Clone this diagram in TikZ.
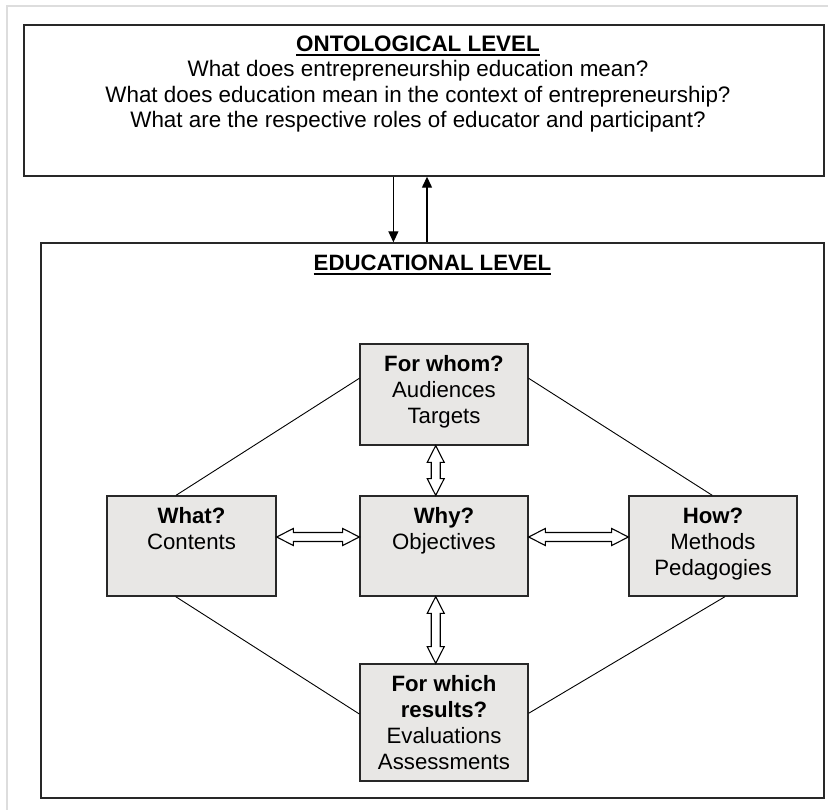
\documentclass[tikz,border=0pt]{standalone}
\usepackage{fontspec}
\setmainfont{Liberation Sans}
\usetikzlibrary{arrows.meta,calc}
\definecolor{boxfill}{RGB}{232,231,229}
\definecolor{edge}{RGB}{40,40,40}
\definecolor{pageframe}{RGB}{221,221,221}
% bold heading with a rule beneath it
\newcommand\undl[1]{\setbox0=\hbox{#1}\rlap{\rule[-5pt]{\wd0}{2.2pt}}\box0}
% fixes the height of the first line of a text block
\newcommand\topstrut{\rule{0pt}{20pt}}
% hollow two-headed arrow between two points
\newcommand\hollowarrow[2]{%
  \path[harrow] let \p1=(#1), \p2=(#2),
    \n1={veclen(\x2-\x1,\y2-\y1)}, \n2={atan2(\y2-\y1,\x2-\x1)} in
    [shift={(\p1)}, rotate=\n2]
    (0pt,0pt) -- (16.7pt,8.5pt) -- (16.7pt,4.5pt) -- ({\n1-16.7pt},4.5pt)
    -- ({\n1-16.7pt},8.5pt) -- (\n1,0pt) -- ({\n1-16.7pt},-8.5pt)
    -- ({\n1-16.7pt},-4.5pt) -- (16.7pt,-4.5pt) -- (16.7pt,-8.5pt) -- cycle;}
\begin{document}
\begin{tikzpicture}[x=1pt,y=-1pt,
  panel/.style={draw=edge, line width=1.4pt, fill=white, inner sep=0pt, rectangle},
  qbox/.style={draw=edge, line width=1.3pt, fill=boxfill, inner sep=0pt, rectangle,
    minimum width=168pt},
  txt/.style={inner sep=0pt, align=center, anchor=north, font=\fontsize{22.2}{26}\selectfont},
  link/.style={line width=0.9pt, black},
  flow/.style={line width=1.3pt, -{Triangle[length=11pt,width=10pt]}},
  harrow/.style={draw=black, line width=1.1pt, fill=white, line join=miter}]
\useasboundingbox (0,0) rectangle (828,810);
\draw[pageframe, line width=2pt] (7.3,810) -- (7.3,5.7) -- (828,5.7);

% the two levels
\node[panel, minimum width=800pt, minimum height=151pt] (onto) at (424,100.5) {};
\node[panel, minimum width=783pt, minimum height=555pt] (edu) at (432.5,520.5) {};

\node[txt, font=\fontsize{22.4}{25.5}\selectfont] (onto-t) at ([xshift=-6pt,yshift=-7pt]onto.north)
  {\topstrut\textbf{\undl{ONTOLOGICAL LEVEL}}\\
   What does entrepreneurship education mean?\\
   What does education mean in the context of entrepreneurship?\\
   What are the respective roles of educator and participant?};
\node[txt] (edu-t) at ([yshift=-8pt]edu.north) {\topstrut\textbf{\undl{EDUCATIONAL LEVEL}}};

\draw[flow] ([xshift=-30.6pt]onto.south) -- ([xshift=-30.6pt]onto.south |- edu.north);
\draw[flow] ([xshift=3pt]onto.south |- edu.north) -- ([xshift=3pt]onto.south);

% the five questions
\node[qbox, minimum height=101pt] (whom) at (444,394.5) {};
\node[qbox, minimum width=169pt, minimum height=100pt] (what) at (191.5,546) {};
\node[qbox, minimum height=100pt] (why) at (444,546) {};
\node[qbox, minimum height=100pt] (how) at (713,546) {};
\node[qbox, minimum height=117pt] (res) at (444,722.5) {};

\node[txt] (whom-t) at ([yshift=-8pt]whom.north) {\topstrut\textbf{For whom?}\\Audiences\\Targets};
\node[txt] (what-t) at ([yshift=-8pt]what.north) {\topstrut\textbf{What?}\\Contents};
\node[txt] (why-t) at ([yshift=-8pt]why.north) {\topstrut\textbf{Why?}\\Objectives};
\node[txt] (how-t) at ([yshift=-8pt]how.north) {\topstrut\textbf{How?}\\Methods\\Pedagogies};
\node[txt] (res-t) at ([yshift=-8pt]res.north)
  {\topstrut\textbf{For which}\\\textbf{results?}\\Evaluations\\Assessments};

% outer diamond of plain lines
\draw[link] ([yshift=16.2pt]whom.west) -- ([xshift=-15.5pt]what.north);
\draw[link] ([yshift=16.2pt]whom.east) -- ([xshift=-0.7pt]how.north);
\draw[link] ([xshift=-15.8pt]what.south) -- ([yshift=8.5pt]res.west);
\draw[link] ([xshift=12pt]how.south) -- ([yshift=9.2pt]res.east);

% two-way links to the centre
\hollowarrow{[yshift=9pt]what.east}{[yshift=9pt]why.west}
\hollowarrow{[yshift=9pt]why.east}{[yshift=9pt]how.west}
\hollowarrow{[xshift=-8.3pt]whom.south}{[xshift=-8.3pt]why.north}
\hollowarrow{[xshift=-8.3pt]why.south}{[xshift=-8.3pt]res.north}
\end{tikzpicture}
\end{document}
